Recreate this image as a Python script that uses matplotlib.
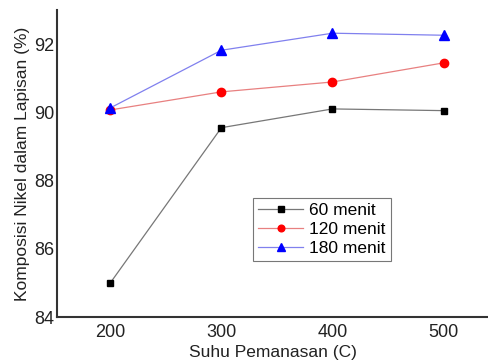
import matplotlib.pyplot as plt
import numpy as np

suhu = [200, 300, 400, 500]
menit60 = [85.0, 89.55, 90.1, 90.05]
menit120 = [90.07, 90.6, 90.89, 91.45]
menit180 = [90.13, 91.82, 92.32, 92.26]

plt.rcParams['font.family'] = ['Liberation Sans', 'DejaVu Sans']

fig = plt.figure(figsize=(4.88, 3.6), dpi=100)
ax = fig.add_axes([57/488, 43/360, 431/488, 307/360])

# thin light lines, solid markers
ax.plot(suhu, menit60, color='#777777', marker='s', markersize=5,
        markerfacecolor='black', markeredgecolor='black',
        linewidth=0.9, label='60 menit')
ax.plot(suhu, menit120, color='#e88080', marker='o', markersize=6,
        markerfacecolor='red', markeredgecolor='red',
        linewidth=0.9, label='120 menit')
ax.plot(suhu, menit180, color='#8080ee', marker='^', markersize=6.5,
        markerfacecolor='blue', markeredgecolor='blue',
        linewidth=0.9, label='180 menit')

ax.set_xlim(152, 540)
ax.set_ylim(84, 93)
ax.set_xticks(suhu)
ax.set_yticks(np.arange(84, 93, 2))
ax.tick_params(length=0, labelsize=13, labelcolor='#222222')
ax.tick_params(axis='y', pad=2)
ax.tick_params(axis='x', pad=5)
ax.spines['top'].set_visible(False)
ax.spines['right'].set_visible(False)
for s in ['left', 'bottom']:
    ax.spines[s].set_linewidth(1.5)
    ax.spines[s].set_color('#333333')

ax.set_xlabel('Suhu Pemanasan (C)', fontsize=12.5, labelpad=3, color='#222222')
ax.set_ylabel('Komposisi Nikel dalam Lapisan (%)', fontsize=12.5, labelpad=3, color='#222222')

leg = ax.legend(loc='upper left', bbox_to_anchor=((253-57)/431, (317-198)/307), fontsize=12.5,
                frameon=True, fancybox=False, edgecolor='#777777', framealpha=1,
                handlelength=2.6, borderpad=0.3, labelspacing=0.2, handletextpad=0.35,
                borderaxespad=0, markerscale=0.8)
leg.get_frame().set_linewidth(0.8)

fig.savefig('out.png', dpi=100)
